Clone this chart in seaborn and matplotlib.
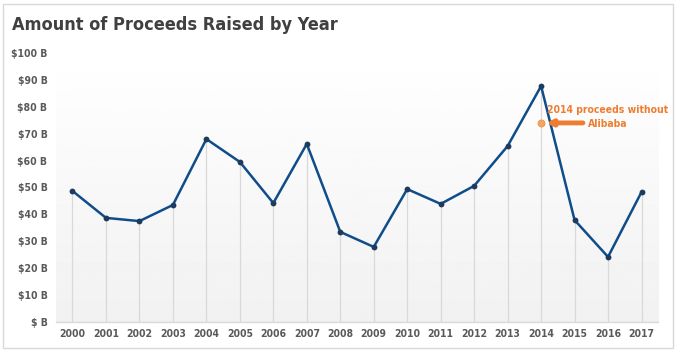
import numpy as np
import pandas as pd
import seaborn as sns
import matplotlib.pyplot as plt
from matplotlib.patches import Rectangle

# data
years = list(range(2000, 2018))
proceeds = [48.7, 38.7, 37.5, 43.5, 68.0, 59.5, 44.2, 66.2, 33.5, 27.9,
            49.4, 43.9, 50.6, 65.4, 87.7, 37.9, 24.2, 48.3]
alibaba_year = 2014
without_alibaba = 74.0
y_ticks = [0, 10, 20, 30, 40, 50, 60, 70, 80, 90, 100]
y_labels = ["$ B"] + [f"${v} B" for v in y_ticks[1:]]

df = pd.DataFrame({"year": years, "proceeds": proceeds})
df["pos"] = range(len(df))

sns.set_style("white")
plt.rcParams["font.family"] = ["DejaVu Sans"]
plt.rcParams["font.stretch"] = "condensed"

fig = plt.figure(figsize=(6.8, 3.58), dpi=100)
ax = fig.add_axes([0.082, 0.1006, 0.886, 0.7514])

# grey gradient background of the plot area
grad = np.linspace(1.0, 0.945, 256).reshape(-1, 1)
ax.imshow(grad, cmap="gray", vmin=0, vmax=1, aspect="auto",
          extent=[-0.5, 17.5, 0, 100], zorder=0)

# drop lines from each point
ax.vlines(df["pos"], 0, df["proceeds"], color="#d9d9d9", lw=0.9, zorder=1)

sns.lineplot(data=df, x="pos", y="proceeds", ax=ax, color="#0f4d8a", lw=1.8,
             marker="o", markersize=4.2, markeredgewidth=0,
             markerfacecolor="#1f3a5f", zorder=3)

# 2014 without Alibaba
a_pos = years.index(alibaba_year)
ax.scatter([a_pos], [without_alibaba], color="#f4a460", s=26, zorder=4,
           edgecolor="#f0883e", linewidth=0.5)
ax.annotate("", xy=(a_pos + 0.15, without_alibaba),
            xytext=(a_pos + 1.25, without_alibaba),
            arrowprops=dict(arrowstyle="-|>", color="#ed7d31", lw=3.5,
                            mutation_scale=8, shrinkA=0, shrinkB=0), zorder=4)
ax.text(a_pos + 1.98, without_alibaba + 2.3, "2014 proceeds without\nAlibaba",
        ha="center", va="center", color="#ed7d31", fontsize=7.5,
        fontweight="bold", linespacing=1.5)

ax.set_xlim(-0.5, 17.5)
ax.set_ylim(0, 100)
ax.set_xticks(df["pos"])
ax.set_xticklabels([str(y) for y in years])
ax.set_yticks(y_ticks)
ax.set_yticklabels(y_labels)
ax.tick_params(axis="both", length=0, labelsize=7.5, colors="#595959", pad=6)
ax.tick_params(axis="x", pad=5)
for lab in ax.get_xticklabels() + ax.get_yticklabels():
    lab.set_fontweight("bold")
ax.set_xlabel("")
ax.set_ylabel("")
for side in ["top", "right", "left"]:
    ax.spines[side].set_visible(False)
ax.spines["bottom"].set_color("#d9d9d9")
ax.spines["bottom"].set_linewidth(1)

fig.text(0.018, 0.93, "Amount of Proceeds Raised by Year", fontsize=13,
         fontweight="bold", color="#404040", ha="left", va="center")

fig.patches.append(Rectangle((0.004, 0.028), 0.985, 0.962, transform=fig.transFigure,
                             fill=False, edgecolor="#d9d9d9", lw=1))

fig.savefig("out.png", dpi=100, facecolor="white")
